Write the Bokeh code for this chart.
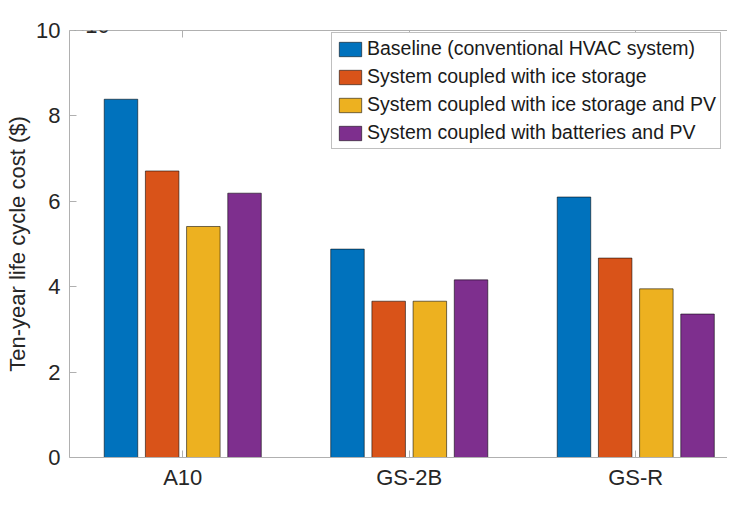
from bokeh.plotting import figure
from bokeh.models import FixedTicker, LinearAxis, Label, Range1d, Legend, LegendItem
from bokeh.embed import file_html
from bokeh.resources import INLINE

# ---- data ----
categories = ["A10", "GS-2B", "GS-R"]
series_names = [
    "Baseline (conventional HVAC system)",
    "System coupled with ice storage",
    "System coupled with ice storage and PV",
    "System coupled with batteries and PV",
]
baseline = [839000, 488000, 610000]
ice_storage = [671000, 366000, 467000]
ice_storage_pv = [541000, 366000, 395000]
batteries_pv = [619000, 416000, 336000]
y_ticks = [0, 200000, 400000, 600000, 800000, 1000000]
y_tick_labels = ["0", "2", "4", "6", "8", "10"]
y_label = "Ten-year life cycle cost ($)"
exponent_base = "\u00d710"
exponent_power = "5"

series = [baseline, ice_storage, ice_storage_pv, batteries_pv]
colors = ["#0072BD", "#D95319", "#EDB120", "#7E2F8E"]

FONT = "Liberation Sans"
TXT = "#262626"
AX = "#b0b0b0"

p = figure(width=727, height=492, output_backend="svg", toolbar_location=None,
           x_range=Range1d(0.5, 3.405), y_range=Range1d(0, 1000000),
           min_border_left=69, min_border_right=0, min_border_top=30,
           min_border_bottom=32)
p.outline_line_color = None
p.grid.visible = False
p.background_fill_color = "white"
p.border_fill_color = "white"

n = len(series)
pitch = 0.7273 / n
bar_w = 0.148
xs_base = list(range(1, len(categories) + 1))

renderers = []
for i, (vals, col) in enumerate(zip(series, colors)):
    off = (i - (n - 1) / 2) * pitch
    xs = [x + off for x in xs_base]
    r = p.vbar(x=xs, top=vals, width=bar_w, bottom=0, fill_color=col,
               line_color="black", line_alpha=0.55, line_width=1)
    renderers.append(r)

# axes
xa = p.xaxis[0]
xa.ticker = FixedTicker(ticks=xs_base)
xa.major_label_overrides = {x: c for x, c in zip(xs_base, categories)}
ya = p.yaxis[0]
ya.ticker = FixedTicker(ticks=y_ticks)
ya.major_label_overrides = {t: l for t, l in zip(y_ticks, y_tick_labels)}
ya.axis_label = y_label
ya.axis_label_text_font = FONT
ya.axis_label_text_font_size = "22px"
ya.axis_label_text_font_style = "normal"
ya.axis_label_text_color = TXT
ya.axis_label_standoff = 3

for ax in (xa, ya):
    ax.axis_line_color = AX
    ax.major_tick_line_color = AX
    ax.major_tick_in = 7
    ax.major_tick_out = 0
    ax.minor_tick_line_color = None
    ax.major_label_text_font = FONT
    ax.major_label_text_font_size = "22px"
    ax.major_label_text_color = TXT
xa.major_label_standoff = 7
ya.major_label_standoff = 9

top = LinearAxis(ticker=FixedTicker(ticks=xs_base),
                 major_label_overrides={x: "" for x in xs_base},
                 major_label_text_font_size="1px", major_label_standoff=0,
                 major_tick_in=7, major_tick_out=0,
                 axis_line_color=AX, major_tick_line_color=AX,
                 minor_tick_line_color=None)
p.add_layout(top, "above")

# exponent label (x10^5)
p.add_layout(Label(x=0.5, y=1000000, x_offset=3, y_offset=5, text=exponent_base,
                   text_font=FONT, text_font_size="22px", text_color=TXT,
                   text_baseline="alphabetic", text_align="left"))
p.add_layout(Label(x=0.5, y=1000000, x_offset=41, y_offset=15, text=exponent_power,
                   text_font=FONT, text_font_size="20px", text_color=TXT,
                   text_baseline="alphabetic", text_align="left"))

legend = Legend(items=[LegendItem(label=nm, renderers=[r]) for nm, r in zip(series_names, renderers)],
                location=(262, 308), label_text_font=FONT, label_text_font_size="19.5px",
                label_text_color="#1a1a1a", glyph_width=28, glyph_height=18,
                label_height=18, label_standoff=3, padding=4, spacing=5, margin=0,
                border_line_color="#7f7f7f", border_line_width=1,
                background_fill_color="white", background_fill_alpha=1)
p.add_layout(legend)

open("out.html", "w").write(file_html(p, INLINE))
